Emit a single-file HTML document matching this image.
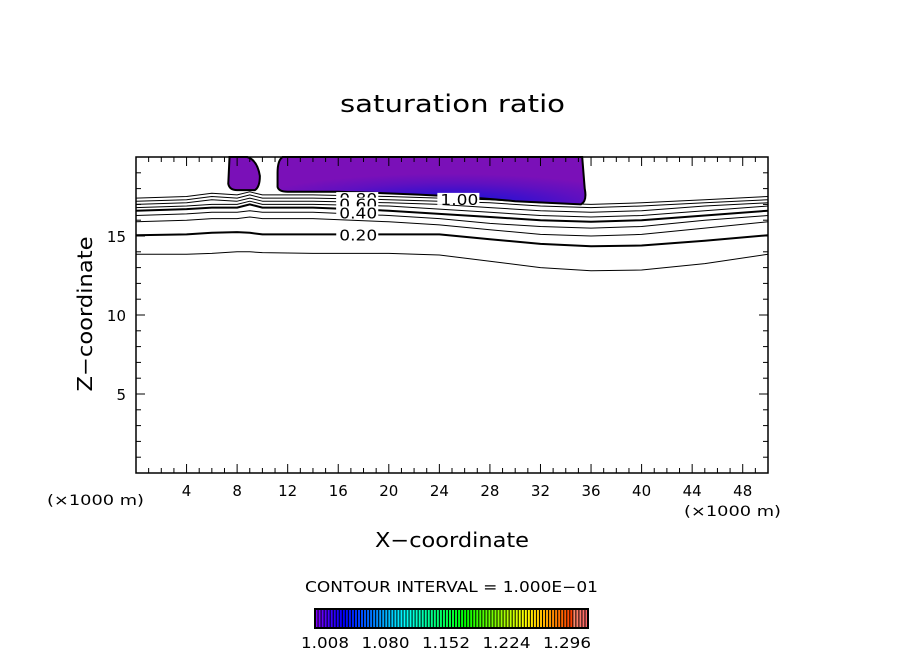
<!DOCTYPE html>
<html><head><meta charset="utf-8"><style>
body{margin:0;background:#fff;width:904px;height:654px;overflow:hidden}
svg{font-family:"DejaVu Sans","Liberation Sans",sans-serif}
</style></head><body>
<svg id="chart" width="904" height="654" xmlns="http://www.w3.org/2000/svg">
<defs>
<radialGradient id="pg" cx="0.55" cy="1" r="0.65" fx="0.55" fy="1">
<stop offset="0" stop-color="#0808e8"/><stop offset="0.3" stop-color="#3010d0"/><stop offset="0.7" stop-color="#6010c0"/><stop offset="1" stop-color="#7a10b8"/>
</radialGradient>
</defs>
<text x="340" y="112" font-size="24" textLength="225" lengthAdjust="spacingAndGlyphs">saturation ratio</text>
<g id="plot"></g>
<text x="375" y="547" font-size="20" textLength="154" lengthAdjust="spacingAndGlyphs">X−coordinate</text>
<text x="0" y="0" font-size="20" text-anchor="middle" textLength="155" lengthAdjust="spacingAndGlyphs" transform="translate(92,314) rotate(-90)">Z−coordinate</text>
<text x="47" y="505" font-size="14" textLength="97" lengthAdjust="spacingAndGlyphs">(×1000 m)</text>
<text x="684" y="516" font-size="14" textLength="97" lengthAdjust="spacingAndGlyphs">(×1000 m)</text>
<text x="305" y="592" font-size="15" textLength="293" lengthAdjust="spacingAndGlyphs">CONTOUR INTERVAL = 1.000E−01</text>
<g id="cbar"></g>
</svg>
<script>
const xTicks=[4,8,12,16,20,24,28,32,36,40,44,48];
const zTicks=[5,10,15];
const sampleX=[0,4,6,8,9,10,14,20,24,28,32,36,40,45,50];
const contourZ=[
[17.4,17.5,17.7,17.6,17.8,17.6,17.6,17.5,17.4,17.3,17.1,17.0,17.1,17.3,17.5],
[17.2,17.3,17.5,17.4,17.6,17.4,17.4,17.3,17.2,17.1,16.9,16.8,16.9,17.1,17.3],
[17.0,17.1,17.3,17.2,17.4,17.2,17.2,17.1,17.0,16.8,16.6,16.5,16.6,16.9,17.1],
[16.8,16.9,17.0,17.0,17.2,17.0,17.0,16.9,16.7,16.5,16.3,16.2,16.3,16.6,16.9],
[16.6,16.7,16.8,16.8,17.0,16.8,16.8,16.6,16.4,16.2,16.0,15.9,16.0,16.3,16.6],
[16.3,16.4,16.5,16.5,16.6,16.5,16.5,16.3,16.1,15.8,15.6,15.5,15.6,16.0,16.3],
[15.9,16.0,16.1,16.1,16.2,16.1,16.1,15.9,15.7,15.4,15.1,15.0,15.1,15.5,15.9],
[15.05,15.1,15.2,15.25,15.2,15.1,15.1,15.1,15.1,14.8,14.5,14.35,14.4,14.7,15.05],
[13.85,13.85,13.9,14.0,14.0,13.95,13.9,13.9,13.8,13.4,13.0,12.8,12.85,13.25,13.85]];
const contourWidth=[1,1,1,1,2,1,1,2,1];
const contourLabels=[["0.80",16,17.4],["0.60",16,17.05],["0.40",16,16.5],["0.20",16,15.1],["1.00",24,17.35]];
const cbarLabels=["1.008","1.080","1.152","1.224","1.296"];
const cbarCount=90;
const L=136,R=768,T=157,B=473;
const sx=x=>L+x/50*(R-L), sz=z=>B-z/20*(B-T);
const NS="http://www.w3.org/2000/svg";
const plot=document.getElementById('plot');
function mk(tag,attrs,parent){const e=document.createElementNS(NS,tag);for(const k in attrs)e.setAttribute(k,attrs[k]);(parent||plot).appendChild(e);return e;}
let b1=mk('path',{d:`M${sx(7.4)},${sz(20)} L${sx(7.3)},${sz(18.3)} Q${sx(7.4)},${sz(17.9)} ${sx(8)},${sz(17.9)} L${sx(9.4)},${sz(17.9)} Q${sx(9.8)},${sz(18.1)} ${sx(9.8)},${sz(18.8)} Q${sx(9.6)},${sz(19.8)} ${sx(8.8)},${sz(20)} Z`,fill:'#7a10b8',stroke:'#000','stroke-width':2});


let b2=mk('path',{d:`M${sx(11.6)},${sz(20)} Q${sx(11.2)},${sz(19.8)} ${sx(11.2)},${sz(19)} L${sx(11.2)},${sz(18.1)} Q${sx(11.3)},${sz(17.8)} ${sx(12)},${sz(17.8)} L${sx(16)},${sz(17.8)} Q${sx(25)},${sz(17.6)} ${sx(30)},${sz(17.2)} L${sx(35.2)},${sz(17.0)} Q${sx(35.7)},${sz(17.2)} ${sx(35.5)},${sz(18)} L${sx(35.3)},${sz(20)} Z`,fill:'url(#pg)',stroke:'#000','stroke-width':2});


contourZ.forEach((zs,i)=>{
 const d=zs.map((z,j)=>(j?'L':'M')+sx(sampleX[j]).toFixed(1)+','+sz(z).toFixed(1)).join(' ');
 const p=mk('path',{d:d,fill:'none',stroke:'#000','stroke-width':contourWidth[i],'stroke-linejoin':'round'});
 
 
});
contourLabels.forEach(c=>{
 mk('rect',{x:sx(c[1])-2,y:sz(c[2])-6,width:42,height:12,fill:'#fff'});
 const t=mk('text',{x:sx(c[1])+1,y:sz(c[2])+6,'font-size':15,textLength:38,lengthAdjust:'spacingAndGlyphs'});
 t.textContent=c[0];
 
 
});
const fr=mk('rect',{x:L,y:T,width:R-L,height:B-T,fill:'none',stroke:'#000','stroke-width':1.5});


for(let x=1;x<50;x++){const big=x%4===0;const len=big?9:5;
 mk('line',{x1:sx(x),x2:sx(x),y1:B,y2:B-len,stroke:'#000'});mk('line',{x1:sx(x),x2:sx(x),y1:T,y2:T+len,stroke:'#000'});}
for(let z=1;z<20;z++){const big=z%5===0;const len=big?9:5;
 mk('line',{x1:L,x2:L+len,y1:sz(z),y2:sz(z),stroke:'#000'});mk('line',{x1:R,x2:R-len,y1:sz(z),y2:sz(z),stroke:'#000'});}
xTicks.forEach(x=>{const t=mk('text',{x:sx(x),y:B+23,'font-size':15,'text-anchor':'middle'});t.textContent=x;
 });
zTicks.forEach(z=>{const t=mk('text',{x:L-10,y:sz(z)+6,'font-size':15,'text-anchor':'end'});t.textContent=z;
 });
const cb=document.getElementById('cbar');
const cx0=315,cx1=588,cy0=609,cy1=628;
for(let i=0;i<cbarCount;i++){const f=i/(cbarCount-1);
 const hue=f<0.1?270-(f/0.1)*30:240-(f-0.1)/0.9*240;
 const w=(cx1-cx0)/cbarCount;
 mk('rect',{x:cx0+i*w,y:cy0,width:w,height:cy1-cy0,fill:`hsl(${hue},100%,${f>0.95?70:50}%)`},cb);
 mk('line',{x1:cx0+i*w,x2:cx0+i*w,y1:cy0,y2:cy1,stroke:'#000','stroke-width':1},cb);}
mk('rect',{x:cx0,y:cy0,width:cx1-cx0,height:cy1-cy0,fill:'none',stroke:'#000','stroke-width':2},cb);
cbarLabels.forEach((s,i)=>{const t=mk('text',{x:301+i*60.5,y:648,'font-size':15,textLength:48,lengthAdjust:'spacingAndGlyphs'},cb);t.textContent=s;
 });
</script>
</body></html>
